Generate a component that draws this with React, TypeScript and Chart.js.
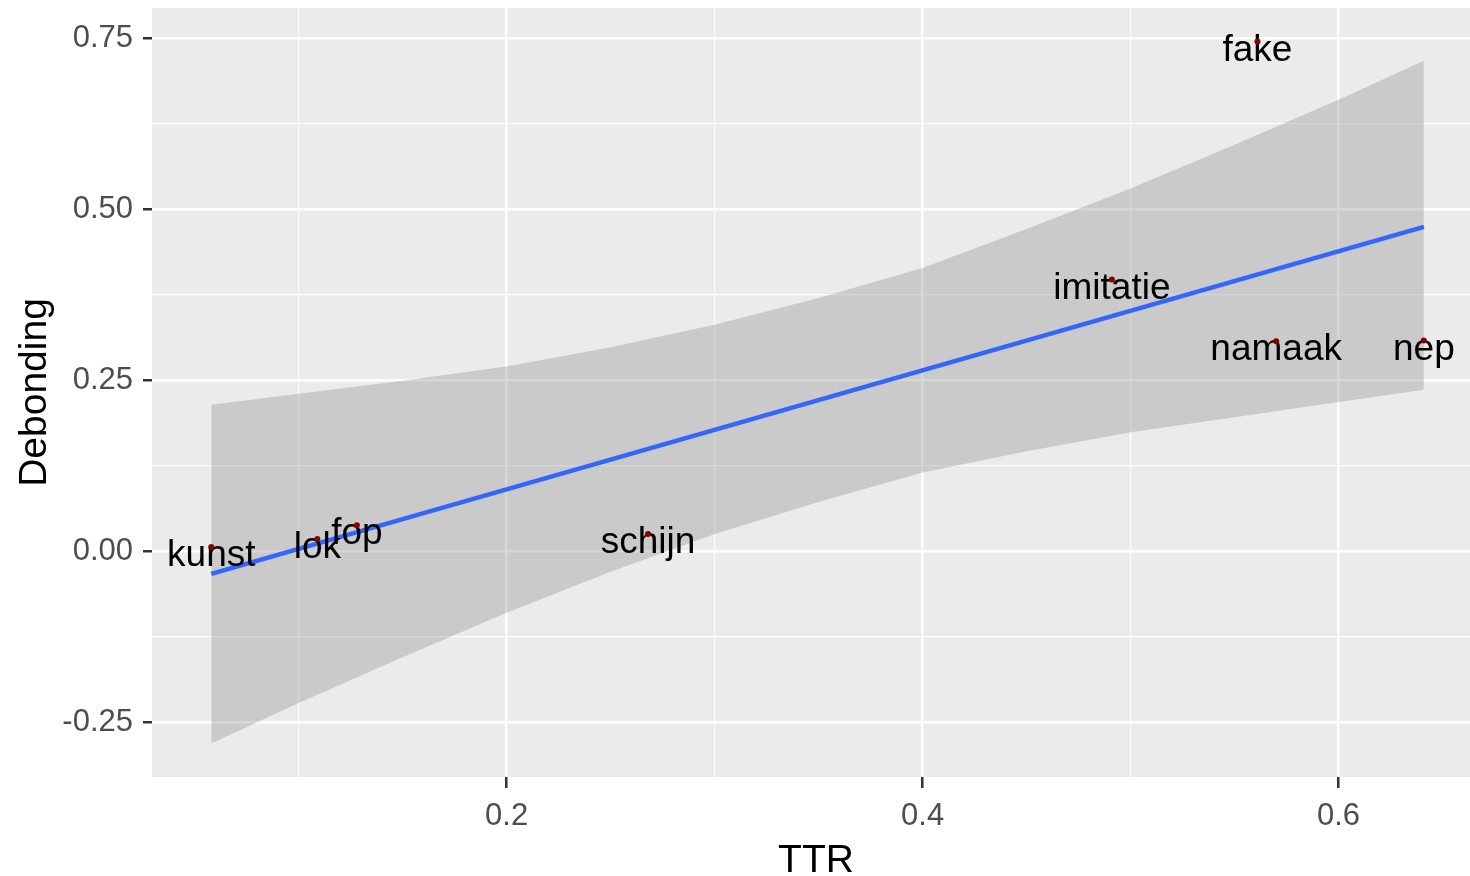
import React, { useEffect, useRef } from "react";
import { Chart, registerables } from "chart.js";

Chart.register(...registerables);

// ---- data ----
const words = ["kunst", "lok", "fop", "schijn", "imitatie", "namaak", "nep", "fake"];
const ttr = [0.058, 0.109, 0.128, 0.268, 0.491, 0.570, 0.641, 0.561];
const debonding = [0.006, 0.018, 0.038, 0.025, 0.397, 0.307, 0.308, 0.745];

const fitX = [0.058, 0.641];
const fitY = [-0.033, 0.474];

const bandX = [0.058, 0.1, 0.15, 0.2, 0.25, 0.3, 0.35, 0.4, 0.45, 0.5, 0.55, 0.6, 0.641];
const bandUpper = [0.214, 0.230, 0.249, 0.270, 0.298, 0.331, 0.370, 0.414, 0.471, 0.530, 0.594, 0.660, 0.717];
const bandLower = [-0.281, -0.222, -0.155, -0.090, -0.030, 0.025, 0.072, 0.115, 0.146, 0.174, 0.196, 0.218, 0.236];

const xTickValues = [0.1, 0.2, 0.3, 0.4, 0.5, 0.6];
const xTickLabels = ["", "0.2", "", "0.4", "", "0.6"];
const yTickValues = [-0.25, -0.125, 0, 0.125, 0.25, 0.375, 0.5, 0.625, 0.75];
const yTickLabels = ["-0.25", "", "0.00", "", "0.25", "", "0.50", "", "0.75"];

const FONT = "'Liberation Sans', Arial, sans-serif";
const W = 1484;
const H = 876;

export default function App() {
  const ref = useRef<HTMLCanvasElement | null>(null);

  useEffect(() => {
    if (!ref.current) return;

    const panelBg = {
      id: "panelBg",
      beforeDraw(chart: any) {
        const { ctx, chartArea } = chart;
        ctx.save();
        ctx.fillStyle = "#EBEBEB";
        ctx.fillRect(chartArea.left, chartArea.top, chartArea.right - chartArea.left, chartArea.bottom - chartArea.top);
        ctx.restore();
      },
    };

    const textLabels = {
      id: "textLabels",
      afterDatasetDraw(chart: any, args: any) {
        if (args.index !== 1) return;
        const { ctx, scales } = chart;
        const size = 37;
        ctx.save();
        ctx.font = `${size}px ${FONT}`;
        ctx.fillStyle = "#000000";
        ctx.textAlign = "center";
        ctx.textBaseline = "alphabetic";
        words.forEach((w, i) => {
          const px = scales.x.getPixelForValue(ttr[i]);
          const py = scales.y.getPixelForValue(debonding[i]);
          ctx.fillText(w, px, py + size * 0.52);
        });
        ctx.restore();
      },
    };

    const isMajorX = (i: number) => xTickLabels[i] !== "";
    const isMajorY = (i: number) => yTickLabels[i] !== "";

    const chart = new Chart(ref.current, {
      type: "line",
      data: {
        datasets: [
          {
            label: "points",
            data: ttr.map((x, i) => ({ x, y: debonding[i] })),
            showLine: false,
            pointRadius: 3,
            pointBorderWidth: 0,
            pointBackgroundColor: "#8B0000",
            borderColor: "#8B0000",
          },
          {
            label: "fit",
            data: fitX.map((x, i) => ({ x, y: fitY[i] })),
            borderColor: "#3366FF",
            borderWidth: 4.5,
            pointRadius: 0,
            fill: false,
          },
          {
            label: "upper",
            data: bandX.map((x, i) => ({ x, y: bandUpper[i] })),
            borderColor: "rgba(0,0,0,0)",
            borderWidth: 0,
            pointRadius: 0,
            backgroundColor: "rgba(153,153,153,0.4)",
            fill: "+1",
          },
          {
            label: "lower",
            data: bandX.map((x, i) => ({ x, y: bandLower[i] })),
            borderColor: "rgba(0,0,0,0)",
            borderWidth: 0,
            pointRadius: 0,
            fill: false,
          },
        ],
      },
      options: {
        animation: false,
        responsive: false,
        devicePixelRatio: 1,
        layout: { padding: { left: 0, top: 8, right: 2, bottom: 0 } },
        plugins: {
          legend: { display: false },
          tooltip: { enabled: false },
        },
        scales: {
          x: {
            type: "linear",
            min: 0.0295,
            max: 0.668,
            border: { display: false },
            afterFit(scale: any) {
              scale.height = 99;
              scale.paddingLeft = 0;
              scale.paddingRight = 0;
            },
            afterBuildTicks(scale: any) {
              scale.ticks = xTickValues.map((v) => ({ value: v }));
            },
            grid: {
              color: "#FFFFFF",
              lineWidth: (c: any) => (isMajorX(c.index) ? 2.5 : 1.3),
              tickLength: 11,
              tickColor: (c: any) => (isMajorX(c.index) ? "#333333" : "rgba(0,0,0,0)"),
              tickWidth: 2.5,
            },
            ticks: {
              autoSkip: false,
              maxRotation: 0,
              padding: 10,
              color: "#4D4D4D",
              font: { family: FONT, size: 31, lineHeight: 1.2 },
              callback: (_v: any, i: number) => xTickLabels[i],
            },
            title: {
              display: true,
              text: "TTR",
              color: "#000000",
              font: { family: FONT, size: 39, lineHeight: 0.75 },
              padding: { top: 0, bottom: 0 },
            },
          },
          y: {
            type: "linear",
            min: -0.33,
            max: 0.794,
            border: { display: false },
            afterFit(scale: any) {
              scale.width = 152;
              scale.paddingTop = 0;
              scale.paddingBottom = 0;
            },
            afterBuildTicks(scale: any) {
              scale.ticks = yTickValues.map((v) => ({ value: v }));
            },
            grid: {
              color: "#FFFFFF",
              lineWidth: (c: any) => (isMajorY(c.index) ? 2.5 : 1.3),
              tickLength: 9,
              tickColor: (c: any) => (isMajorY(c.index) ? "#333333" : "rgba(0,0,0,0)"),
              tickWidth: 2.5,
            },
            ticks: {
              autoSkip: false,
              padding: 10,
              color: "#4D4D4D",
              font: { family: FONT, size: 31, lineHeight: 1.2 },
              callback: (_v: any, i: number) => yTickLabels[i],
            },
            title: {
              display: true,
              text: "Debonding",
              color: "#000000",
              font: { family: FONT, size: 39, lineHeight: 1.2 },
              padding: { top: 12, bottom: 0 },
            },
          },
        },
      },
      plugins: [panelBg, textLabels],
    } as any);

    return () => chart.destroy();
  }, []);

  return (
    <div
      style={{
        position: "fixed",
        left: 0,
        top: 0,
        width: 1470,
        height: 876,
        overflow: "hidden",
        background: "#FFFFFF",
      }}
    >
      <canvas ref={ref} width={W} height={H} style={{ display: "block", width: W, height: H }} />
    </div>
  );
}
